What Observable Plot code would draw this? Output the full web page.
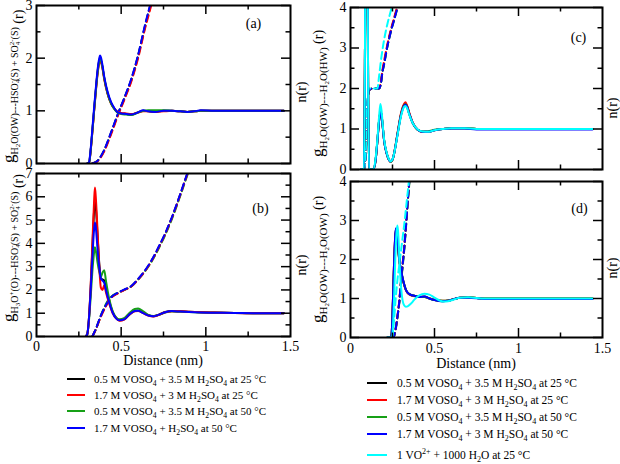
<!DOCTYPE html>
<html><head><meta charset="utf-8">
<script src="https://cdn.jsdelivr.net/npm/d3@7"></script>
<script src="https://cdn.jsdelivr.net/npm/@observablehq/plot@0.6"></script>
<style>
html,body{margin:0;padding:0;background:#fff;}
#wrap{position:relative;width:620px;height:464px;overflow:hidden;font-family:"Liberation Serif","Times New Roman",Tinos,"DejaVu Serif",serif;background:#fff;}
#wrap > svg{position:absolute;}
#wrap text{font-family:"Liberation Serif","Times New Roman",Tinos,"DejaVu Serif",serif;}
</style></head><body><div id="wrap"></div>
<script>
// ---------- DATA ----------
// Panel (a): g(r) H2O(OW)---HSO4-(S)+SO4 2-(S)
const aR = [0.30,0.31,0.32,0.33,0.34,0.35,0.36,0.37,0.375,0.38,0.39,0.40,0.42,0.44,0.46,0.48,0.50,0.53,0.56,0.60,0.63,0.66,0.70,0.75,0.80,0.85,0.89,0.93,0.97,1.05,1.20,1.35,1.46];
const aBlack = [0,0.01,0.25,0.62,1.0,1.38,1.72,1.95,2.0,1.97,1.82,1.62,1.33,1.15,1.04,0.97,0.95,0.94,0.93,0.97,1.0,0.99,0.98,1.0,1.0,0.99,0.98,0.99,1.0,1.0,1.0,1.0,1.0];
const aRed   = [0,0.01,0.24,0.60,0.98,1.35,1.68,1.90,1.96,1.94,1.80,1.60,1.32,1.14,1.04,0.98,0.96,0.95,0.94,0.97,0.99,0.99,0.98,0.99,1.0,0.99,0.98,0.99,1.0,1.0,1.0,1.0,1.0];
const aGreen = [0,0.01,0.25,0.62,1.0,1.37,1.70,1.93,1.99,1.96,1.82,1.62,1.33,1.14,1.03,0.96,0.94,0.93,0.92,0.97,1.0,1.01,1.01,1.01,1.0,0.99,0.98,0.99,1.0,1.0,1.0,1.0,1.0];
const aBlue  = [0,0.02,0.28,0.66,1.05,1.42,1.76,1.99,2.05,2.02,1.86,1.65,1.36,1.17,1.05,0.97,0.95,0.94,0.93,0.97,1.01,0.99,0.98,1.0,1.0,0.99,0.98,0.99,1.01,1.0,1.0,1.0,1.0];
const aNR = [0.33,0.36,0.40,0.44,0.48,0.52,0.56,0.60,0.64,0.68,0.72];
const aNBlack = [0,0.05,0.25,0.58,0.93,1.25,1.60,2.05,2.60,3.10,3.60];
const aNRed   = [0,0.04,0.23,0.55,0.90,1.22,1.56,2.00,2.55,3.03,3.55];
const aNGreen = [0,0.05,0.25,0.57,0.92,1.24,1.58,2.03,2.58,3.08,3.58];
const aNBlue  = [0,0.05,0.26,0.59,0.94,1.26,1.61,2.06,2.62,3.12,3.62];

// Panel (b): g(r) H3O+(O)---HSO4-(S)+SO4 2-(S)
const bR = [0.29,0.30,0.31,0.32,0.33,0.34,0.345,0.35,0.36,0.37,0.38,0.39,0.40,0.41,0.43,0.45,0.47,0.49,0.52,0.55,0.58,0.60,0.63,0.66,0.69,0.72,0.76,0.80,0.85,0.90,0.97,1.05,1.17,1.30,1.46];
const bBlack = [0,0.1,0.8,2.1,3.8,5.4,5.9,5.6,4.4,3.2,2.5,2.45,2.4,2.1,1.5,1.05,0.8,0.7,0.75,0.95,1.1,1.12,1.02,0.92,0.87,0.93,1.05,1.1,1.08,1.06,1.04,1.03,1.01,1.0,1.0];
const bRed   = [0,0.1,0.8,2.2,4.0,5.8,6.4,6.0,4.6,3.1,2.1,2.0,2.2,1.9,1.4,1.0,0.78,0.68,0.74,0.95,1.08,1.1,1.0,0.9,0.86,0.92,1.04,1.08,1.08,1.06,1.04,1.03,1.01,1.0,1.0];
const bGreen = [0,0.1,0.7,1.7,2.8,3.6,3.83,3.7,3.2,2.8,2.55,2.75,2.85,2.4,1.6,1.08,0.82,0.74,0.8,1.02,1.18,1.2,1.08,0.93,0.88,0.92,1.03,1.07,1.06,1.05,1.03,1.02,1.01,1.0,1.0];
const bBlue  = [0,0.1,0.8,2.0,3.4,4.6,4.9,4.7,3.8,3.0,2.5,2.4,2.3,2.0,1.45,1.02,0.78,0.7,0.75,0.96,1.1,1.11,1.0,0.9,0.87,0.93,1.04,1.09,1.07,1.05,1.03,1.02,1.01,1.0,1.0];
const bNR = [0.33,0.35,0.38,0.41,0.44,0.48,0.52,0.56,0.60,0.64,0.68,0.72,0.76,0.80,0.84,0.88,0.92];
const bNBlack = [0,0.31,0.88,1.33,1.66,1.86,2.01,2.16,2.46,2.81,3.26,3.81,4.41,5.11,5.91,6.76,7.62];
const bNRed   = [0,0.30,0.85,1.30,1.65,1.85,2.00,2.15,2.45,2.80,3.25,3.80,4.40,5.10,5.90,6.75,7.60];
const bNGreen = [0,0.30,0.90,1.40,1.70,1.88,2.00,2.15,2.44,2.79,3.22,3.76,4.36,5.05,5.85,6.70,7.55];
const bNBlue  = [0,0.32,0.90,1.35,1.68,1.88,2.02,2.17,2.47,2.83,3.28,3.83,4.43,5.13,5.93,6.78,7.65];

// Panel (c): g(r) H2O(OW)---H2O(HW)
const cR = [0.06,0.08,0.085,0.09,0.10,0.105,0.11,0.12,0.135,0.15,0.16,0.17,0.178,0.185,0.19,0.20,0.215,0.23,0.238,0.25,0.26,0.28,0.30,0.32,0.327,0.335,0.35,0.37,0.40,0.43,0.46,0.50,0.55,0.60,0.68,0.75,0.85,1.0,1.2,1.44];
const cBlack = [0,0,2,6,6,2,0,0,0,0.25,0.7,1.2,1.42,1.35,1.15,0.72,0.4,0.23,0.19,0.24,0.4,0.88,1.35,1.6,1.62,1.58,1.38,1.15,0.98,0.93,0.93,0.97,1.0,1.02,1.02,1.0,1.0,1.0,1.0,1.0];
const cRed   = [0,0,2,6,6,2,0,0,0,0.25,0.7,1.2,1.42,1.35,1.15,0.72,0.4,0.23,0.19,0.24,0.41,0.9,1.38,1.63,1.66,1.6,1.4,1.16,0.98,0.93,0.93,0.97,1.0,1.02,1.02,1.0,1.0,1.0,1.0,1.0];
const cGreen = [0,0,2,6,6,2,0,0,0,0.25,0.7,1.2,1.41,1.34,1.14,0.72,0.4,0.23,0.19,0.24,0.4,0.88,1.34,1.59,1.61,1.57,1.37,1.15,0.98,0.94,0.94,0.98,1.0,1.02,1.02,1.0,1.0,1.0,1.0,1.0];
const cBlue  = [0,0,2,6,6,2,0,0,0,0.25,0.7,1.19,1.40,1.33,1.13,0.71,0.4,0.23,0.2,0.25,0.4,0.87,1.33,1.58,1.60,1.56,1.37,1.15,0.98,0.93,0.93,0.97,1.0,1.01,1.01,0.99,0.99,0.99,0.99,0.99];
const cCyan  = [0,0,2,6,6,2,0,0,0,0.3,0.75,1.3,1.62,1.45,1.2,0.75,0.42,0.24,0.2,0.25,0.4,0.85,1.3,1.55,1.57,1.53,1.35,1.15,0.99,0.94,0.93,0.97,1.0,1.02,1.02,1.0,1.0,1.0,1.0,1.0];
const cNR = [0.07,0.08,0.09,0.10,0.11,0.13,0.16,0.17,0.18,0.19,0.20,0.22,0.24,0.26,0.28,0.30];
const cNBlack = [0,0,0.35,1.5,1.95,2.0,2.0,2.0,2.1,2.4,2.62,3.06,3.42,3.72,4.02,4.32];
const cNRed   = [0,0,0.35,1.5,1.95,2.0,2.0,2.02,2.15,2.45,2.68,3.10,3.45,3.75,4.05,4.35];
const cNGreen = [0,0,0.35,1.5,1.95,2.0,2.0,2.0,2.1,2.4,2.6,3.05,3.4,3.7,4.0,4.3];
const cNBlue  = [0,0,0.35,1.5,1.95,2.0,2.0,2.0,2.1,2.4,2.6,3.05,3.4,3.7,4.0,4.3];
const cNCyan  = [0,0,0.4,1.6,2.0,2.0,2.0,2.3,2.65,2.95,3.2,3.6,3.92,4.25,4.6,5.0];

// Panel (d): g(r) H2O(OW)---H2O(OW)
const dR = [0.22,0.24,0.245,0.25,0.255,0.26,0.265,0.27,0.275,0.28,0.285,0.29,0.30,0.31,0.32,0.33,0.34,0.36,0.38,0.41,0.44,0.47,0.50,0.55,0.58,0.62,0.65,0.70,0.80,1.0,1.2,1.44];
const dBlack = [0,0,0.1,0.6,1.3,2.0,2.5,2.78,2.7,2.5,2.25,2.0,1.75,1.52,1.35,1.22,1.15,1.09,1.07,1.04,1.05,1.0,0.96,0.93,0.94,0.99,1.02,1.03,1.0,1.0,1.0,1.0];
const dRed   = [0,0,0.1,0.6,1.3,1.98,2.48,2.75,2.68,2.48,2.23,1.98,1.74,1.51,1.34,1.21,1.14,1.08,1.06,1.04,1.04,1.0,0.97,0.94,0.95,0.99,1.02,1.03,1.0,1.0,1.0,1.0];
const dGreen = [0,0,0.1,0.55,1.2,1.9,2.4,2.7,2.65,2.46,2.22,1.98,1.74,1.52,1.35,1.22,1.15,1.09,1.07,1.04,1.04,1.0,0.96,0.94,0.95,0.99,1.02,1.03,1.0,1.0,1.0,1.0];
const dBlue  = [0,0,0.1,0.6,1.3,2.0,2.52,2.8,2.72,2.52,2.26,2.01,1.76,1.53,1.36,1.22,1.15,1.09,1.07,1.04,1.05,1.0,0.96,0.93,0.94,0.99,1.02,1.02,0.99,0.99,0.99,0.99];
const dCyan  = [0,0,0,0.1,0.5,1.1,1.8,2.4,2.75,2.87,2.6,2.1,1.35,0.95,0.82,0.79,0.8,0.87,0.97,1.08,1.12,1.1,1.02,0.92,0.93,0.98,1.02,1.03,1.0,1.0,1.0,1.0];
const dNR = [0.24,0.25,0.26,0.27,0.28,0.29,0.30,0.31,0.32,0.33,0.34,0.35,0.36,0.37];
const dNBlack = [0,0,0.05,0.25,0.55,0.9,1.4,1.85,2.3,2.85,3.45,4.0,4.55,5.1];
const dNRed   = [0,0,0.05,0.26,0.57,0.92,1.42,1.88,2.33,2.88,3.48,4.03,4.58,5.13];
const dNGreen = [0,0,0.04,0.23,0.52,0.87,1.36,1.8,2.25,2.8,3.4,3.95,4.5,5.05];
const dNBlue  = [0,0,0.05,0.25,0.55,0.9,1.4,1.85,2.3,2.85,3.45,4.0,4.55,5.1];
const dNCyan  = [0,0.05,0.5,1.05,1.5,1.85,2.2,2.55,2.9,3.3,3.7,4.1,4.5,4.9];

// Axis ticks
const xTickLabels = [0, 0.5, 1, 1.5];
const xMajor = [0.5, 1.0];
const xMinor = [0.25, 0.75, 1.25];
const yTicksA = [0,1,2,3],         yMinorA = [0.5,1.5,2.5];
const yTicksB = [0,1,2,3,4,5,6,7], yMinorB = [0.5,1.5,2.5,3.5,4.5,5.5,6.5];
const yTicksCD = [0,1,2,3,4],      yMinorCD = [0.5,1.5,2.5,3.5];

// Series colours
const seriesColors = {black:"#000000", red:"#ff0000", green:"#16a016", blue:"#0000ff", cyan:"#00ffff"};

// Legend labels
const legendLeft = [
  ["black", [["0.5 M VOSO"],["4","sub"],[" + 3.5 M H"],["2","sub"],["SO"],["4","sub"],[" at 25 °C"]]],
  ["red",   [["1.7 M VOSO"],["4","sub"],[" + 3 M H"],["2","sub"],["SO"],["4","sub"],[" at 25 °C"]]],
  ["green", [["0.5 M VOSO"],["4","sub"],[" + 3.5 M H"],["2","sub"],["SO"],["4","sub"],[" at 50 °C"]]],
  ["blue",  [["1.7 M VOSO"],["4","sub"],[" + H"],["2","sub"],["SO"],["4","sub"],[" at 50 °C"]]]
];
const legendRight = [
  ["black", [["0.5 M VOSO"],["4","sub"],[" + 3.5 M H"],["2","sub"],["SO"],["4","sub"],[" at 25 °C"]]],
  ["red",   [["1.7 M VOSO"],["4","sub"],[" + 3 M H"],["2","sub"],["SO"],["4","sub"],[" at 25 °C"]]],
  ["green", [["0.5 M VOSO"],["4","sub"],[" + 3.5 M H"],["2","sub"],["SO"],["4","sub"],[" at 50 °C"]]],
  ["blue",  [["1.7 M VOSO"],["4","sub"],[" + 3 M H"],["2","sub"],["SO"],["4","sub"],[" at 50 °C"]]],
  ["cyan",  [["1 VO"],["2+","sup"],[" + 1000 H"],["2","sub"],["O at 25 °C"]]]
];

// ---------- DRAW ----------
const FONT = '"Liberation Serif","Times New Roman",Tinos,"DejaVu Serif",serif';
const wrap = document.getElementById("wrap");
const MAJ = 9, MIN = 4.5;

function toRows(xs, ys) { return xs.map((r, i) => ({r, g: ys[i]})); }

function panel(cfg) {
  const pw = cfg.width - cfg.mL - cfg.mR, ph = cfg.height - cfg.mT - cfg.mB;
  const marks = [];
  for (const [name, xs, ys] of cfg.dashed)
    marks.push(Plot.line(toRows(xs, ys), {x:"r", y:"g", stroke: seriesColors[name], strokeWidth: 2, strokeDasharray: "7,4", curve: "monotone-x"}));
  for (const [name, xs, ys] of cfg.solid)
    marks.push(Plot.line(toRows(xs, ys), {x:"r", y:"g", stroke: seriesColors[name], strokeWidth: 2, curve: "monotone-x"}));
  const tk = {stroke: "black", strokeWidth: 1.5};
  marks.push(Plot.tickX(xMajor, {x: d => d, insetTop: ph - MAJ, ...tk}));
  marks.push(Plot.tickX(xMajor, {x: d => d, insetBottom: ph - MAJ, ...tk}));
  marks.push(Plot.tickX(xMinor, {x: d => d, insetTop: ph - MIN, ...tk}));
  marks.push(Plot.tickX(xMinor, {x: d => d, insetBottom: ph - MIN, ...tk}));
  marks.push(Plot.tickY(cfg.yTicks, {y: d => d, insetRight: pw - MAJ, ...tk}));
  marks.push(Plot.tickY(cfg.yTicks, {y: d => d, insetLeft: pw - MAJ, ...tk}));
  marks.push(Plot.tickY(cfg.yMinor, {y: d => d, insetRight: pw - MIN, ...tk}));
  marks.push(Plot.tickY(cfg.yMinor, {y: d => d, insetLeft: pw - MIN, ...tk}));
  marks.push(Plot.axisY({ticks: cfg.yTicks, tickSize: 0, tickPadding: 4, fontSize: 14, tickFormat: d => String(d), label: null}));
  if (cfg.showX)
    marks.push(Plot.axisX({ticks: xTickLabels, tickSize: 0, tickPadding: cfg.xPad, fontSize: 14, tickFormat: d => String(d), label: null}));
  marks.push(Plot.text([cfg.label], {text: d => d, frameAnchor: "top-right", dx: cfg.ldx, dy: cfg.ldy, fontSize: 14, textAnchor: "middle", lineAnchor: "middle"}));
  marks.push(Plot.frame({stroke: "black", strokeWidth: 2}));
  const svg = Plot.plot({
    width: cfg.width, height: cfg.height,
    marginLeft: cfg.mL, marginRight: cfg.mR, marginTop: cfg.mT, marginBottom: cfg.mB,
    x: {domain: [0, 1.5], axis: cfg.showX ? undefined : null},
    y: {domain: [0, cfg.yMax]},
    style: {fontFamily: FONT, fontSize: "14px", color: "black", background: "none", overflow: "visible"},
    marks
  });
  // clip the curves to the frame with a nested viewport
  const curves = Array.from(svg.querySelectorAll(':scope > g[aria-label="line"]'));
  if (curves.length) {
    const vp = document.createElementNS("http://www.w3.org/2000/svg", "svg");
    vp.setAttribute("x", cfg.mL); vp.setAttribute("y", cfg.mT);
    vp.setAttribute("width", pw); vp.setAttribute("height", ph);
    vp.setAttribute("viewBox", `${cfg.mL} ${cfg.mT} ${pw} ${ph}`);
    vp.setAttribute("overflow", "hidden");
    curves[0].parentNode.insertBefore(vp, curves[0]);
    for (const c of curves) vp.appendChild(c);
  }
  svg.style.left = cfg.left + "px";
  svg.style.top = cfg.top + "px";
  wrap.appendChild(svg);
}

panel({key:"a", left:0, top:0, width:310, height:168, mL:36, mR:20, mT:5, mB:5, yMax:3, yTicks:yTicksA, yMinor:yMinorA,
  label:"(a)", ldx:-37, ldy:18, showX:false,
  dashed:[["black",aNR,aNBlack],["green",aNR,aNGreen],["red",aNR,aNRed],["blue",aNR,aNBlue]],
  solid:[["black",aR,aBlack],["red",aR,aRed],["green",aR,aGreen],["blue",aR,aBlue]]});
panel({key:"b", left:0, top:166, width:310, height:190, mL:36, mR:20, mT:7, mB:20, yMax:7, yTicks:yTicksB, yMinor:yMinorB,
  label:"(b)", ldx:-30, ldy:35, showX:true, xPad:5,
  dashed:[["black",bNR,bNBlack],["green",bNR,bNGreen],["red",bNR,bNRed],["blue",bNR,bNBlue]],
  solid:[["black",bR,bBlack],["green",bR,bGreen],["red",bR,bRed],["blue",bR,bBlue]]});
panel({key:"c", left:310, top:0, width:310, height:175, mL:40, mR:18, mT:7, mB:6, yMax:4, yTicks:yTicksCD, yMinor:yMinorCD,
  label:"(c)", ldx:-24, ldy:30, showX:false,
  dashed:[["black",cNR,cNBlack],["green",cNR,cNGreen],["red",cNR,cNRed],["blue",cNR,cNBlue],["cyan",cNR,cNCyan]],
  solid:[["black",cR,cBlack],["red",cR,cRed],["green",cR,cGreen],["blue",cR,cBlue],["cyan",cR,cCyan]]});
panel({key:"d", left:310, top:175, width:310, height:182, mL:40, mR:18, mT:6, mB:20, yMax:4, yTicks:yTicksCD, yMinor:yMinorCD,
  label:"(d)", ldx:-23, ldy:27, showX:true, xPad:6,
  dashed:[["black",dNR,dNBlack],["green",dNR,dNGreen],["red",dNR,dNRed],["blue",dNR,dNBlue],["cyan",dNR,dNCyan]],
  solid:[["black",dR,dBlack],["red",dR,dRed],["green",dR,dGreen],["blue",dR,dBlue],["cyan",dR,dCyan]]});

// ---------- Overlay: axis titles and legends ----------
const ov = d3.select(wrap).append("svg").attr("width", 620).attr("height", 464)
  .style("left", "0px").style("top", "0px").style("pointer-events", "none")
  .attr("font-family", FONT).attr("fill", "black");

function rich(textSel, segs) {
  let prev = 0;
  for (const [t, size, shift = 0, dx = 0] of segs) {
    const ts = textSel.append("tspan").text(t).attr("font-size", size);
    if (shift !== prev) ts.attr("dy", shift - prev);
    if (dx) ts.attr("dx", dx);
    prev = shift;
  }
}
function vlabel(x, y, segs) {
  const t = ov.append("text").attr("transform", `translate(${x},${y}) rotate(-90)`).attr("text-anchor", "start");
  rich(t, segs);
}
const S = 10, SS = 7;
vlabel(14, 163, [["g",17,0],["H",S,4],["2",SS,6],["O(OW)---HSO",S,4],["4",SS,6],["-",SS,0,-3.5],["(S) + SO",S,4],["4",SS,6],["2-",SS,0,-3.5],["(S)",S,4],[" (r)",14,9]]);
vlabel(14, 322, [["g",17,0],["H",S,4],["3",SS,6],["O",S,4],["+",SS,0],["(O)---HSO",S,4],["4",SS,6],["-",SS,0,-3.5],["(S) + SO",S,4],["4",SS,6],["2-",SS,0,-3.5],["(S)",S,4],[" (r)",14,9]]);
vlabel(323, 157, [["g",17,0],["H",S+1,4],["2",SS,6],["O(OW)---H",S+1,4],["2",SS,6],["O(HW)",S+1,4],[" (r)",14,0]]);
vlabel(323, 323, [["g",17,0],["H",S+1,4],["2",SS,6],["O(OW)---H",S+1,4],["2",SS,6],["O(OW)",S+1,4],[" (r)",14,0]]);

for (const [x, y] of [[306, 92], [306, 265], [617, 108], [617, 268]])
  ov.append("text").attr("transform", `translate(${x},${y}) rotate(-90)`).attr("text-anchor", "middle").attr("font-size", 14).text("n(r)");

ov.append("text").attr("x", 163).attr("y", 365).attr("text-anchor", "middle").attr("font-size", 14).text("Distance (nm)");
ov.append("text").attr("x", 476).attr("y", 368).attr("text-anchor", "middle").attr("font-size", 14).text("Distance (nm)");

function legend(entries, x1, x2, tx, ys, fs) {
  entries.forEach(([name, segs], i) => {
    const y = ys[i];
    ov.append("line").attr("x1", x1).attr("x2", x2).attr("y1", y).attr("y2", y)
      .attr("stroke", seriesColors[name]).attr("stroke-width", 2);
    const t = ov.append("text").attr("x", tx).attr("y", y + 4).attr("font-size", fs);
    rich(t, segs.map(([s, k]) => k === "sub" ? [s, fs * 0.7, 3] : k === "sup" ? [s, fs * 0.7, -5] : [s, fs, 0]));
  });
}
legend(legendLeft, 67, 85, 94, [379, 395, 411, 428], 11);
legend(legendRight, 367, 387, 397, [383, 400, 417, 434, 455], 11.5);
</script></body></html>
